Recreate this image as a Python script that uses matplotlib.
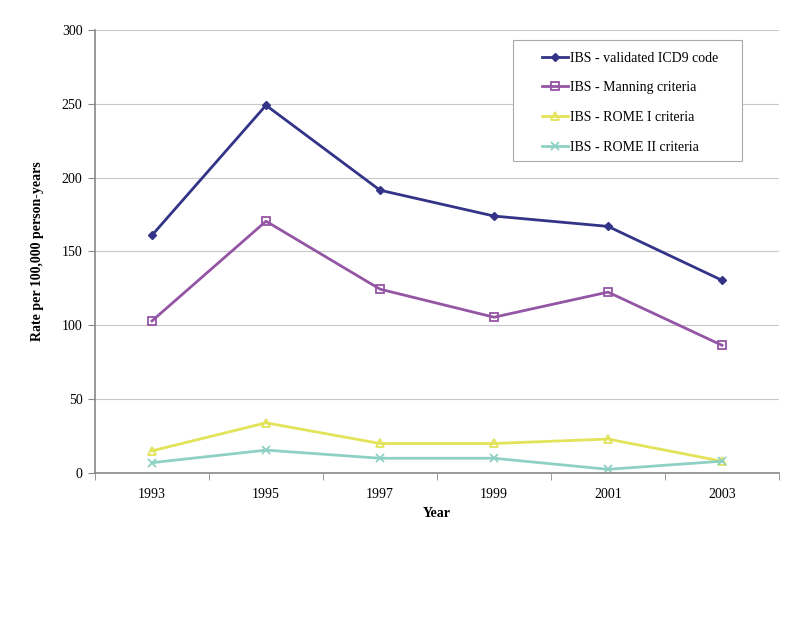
import matplotlib
matplotlib.use("Agg")
import matplotlib.pyplot as plt
from matplotlib.patches import Rectangle
import numpy as np

years = ["1993", "1995", "1997", "1999", "2001", "2003"]
icd9 = [161, 249, 191.5, 174, 167, 130.5]
manning = [103, 170.5, 124.5, 105.5, 122.5, 86.5]
rome1 = [15, 34, 20, 20, 23, 8]
rome2 = [7, 15.5, 10, 10, 2.5, 8]

plt.rcParams['font.family'] = ['Liberation Serif', 'DejaVu Serif']

fig = plt.figure(figsize=(8, 6.18), dpi=100)
ax = fig.add_axes([0.11875, 0.2346, 0.855, 0.7169])

x = np.arange(len(years))
ax.plot(x, icd9, color='#333388', lw=2.0, marker='D', ms=4.5, mfc='#333388', mec='#333388',
        label='IBS - validated ICD9 code')
ax.plot(x, manning, color='#9455A5', lw=2.0, marker='s', ms=5.5, mfc='none', mec='#9455A5',
        mew=1.3, label='IBS - Manning criteria')
ax.plot(x, rome1, color='#E3E35A', lw=2.0, marker='^', ms=6, mfc='none', mec='#E3E35A',
        mew=1.3, label='IBS - ROME I criteria')
ax.plot(x, rome2, color='#8FD0C5', lw=2.0, marker='x', ms=6, mec='#8FD0C5',
        mew=1.3, label='IBS - ROME II criteria')

ax.set_xlim(-0.5, 5.5)
ax.set_ylim(0, 300)
ax.set_yticks(range(0, 301, 50))
ax.set_xticks(x)
ax.set_xticklabels(years)
ax.set_xticks(np.arange(-0.5, 5.6, 1), minor=True)
ax.tick_params(axis='x', which='major', length=0, pad=11, labelsize=10)
ax.tick_params(axis='x', which='minor', length=5, color='#888888', direction='out')
ax.tick_params(axis='y', length=5, color='#888888', labelsize=10, pad=4)
ax.yaxis.grid(True, color='#c8c8c8', lw=0.8)
ax.set_axisbelow(True)
for s in ['top', 'right']:
    ax.spines[s].set_visible(False)
for s in ['left', 'bottom']:
    ax.spines[s].set_color('#888888')
    ax.spines[s].set_linewidth(1.2)

ax.set_xlabel('Year', fontsize=10, fontweight='bold', labelpad=4)
ax.set_ylabel('Rate per 100,000 person-years', fontsize=10, fontweight='bold', labelpad=13)

# legend frame drawn separately so the box has Excel-like wide margins
ax.add_patch(Rectangle((0.611, 0.704), 0.335, 0.273, transform=ax.transAxes,
                       facecolor='white', edgecolor='#aaaaaa', lw=0.8, zorder=4))
leg = ax.legend(loc='upper left', bbox_to_anchor=(0.6535, 0.951), frameon=False,
                fontsize=10, labelspacing=1.2, handlelength=1.85, handletextpad=0.2,
                borderpad=0, borderaxespad=0)
leg.set_zorder(5)

fig.savefig('out.png', dpi=100)
